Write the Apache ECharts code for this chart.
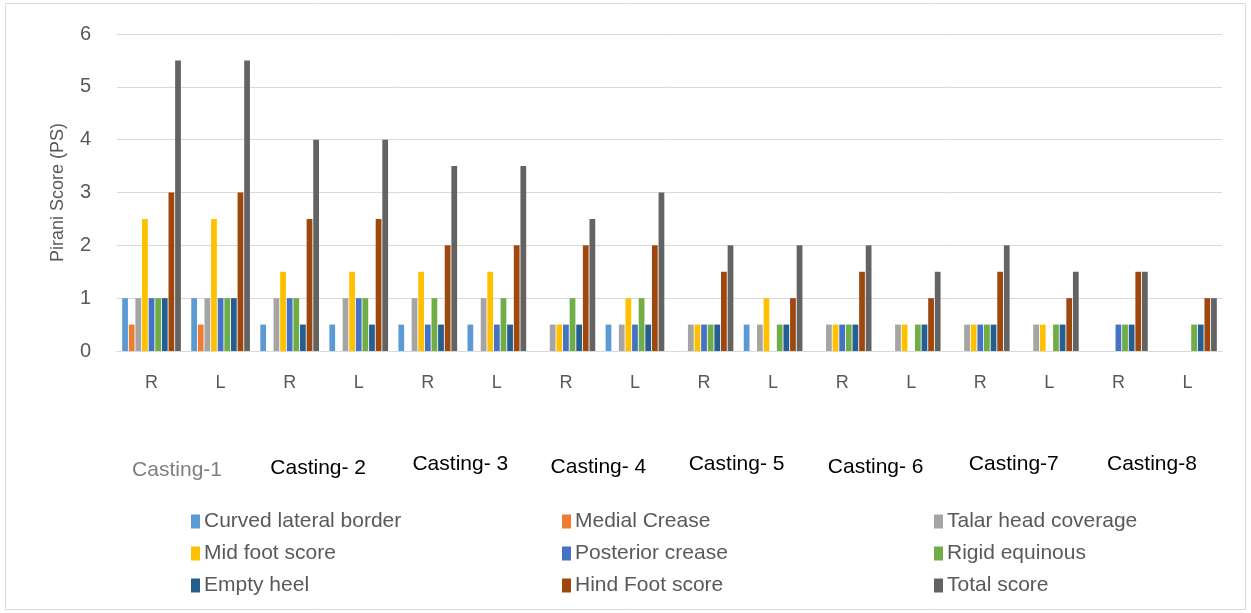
<!DOCTYPE html>
<html>
<head>
<meta charset="utf-8">
<script src="https://cdn.jsdelivr.net/npm/echarts@6/dist/echarts.min.js"></script>
<style>
  html, body { margin: 0; padding: 0; background: #fff; }
  #chart { width: 1251px; height: 613px; }
</style>
</head>
<body>
<div id="chart"></div>
<script>
// Side of each casting (right / left foot)
const sides = ['R','L','R','L','R','L','R','L','R','L','R','L','R','L','R','L'];
const castings = ['Casting-1','Casting- 2','Casting- 3','Casting- 4','Casting- 5','Casting- 6','Casting-7','Casting-8'];
const yTicks = [0, 6, 1];

// Pirani component scores per side
const curvedLateralBorder = [1, 1, 0.5, 0.5, 0.5, 0.5, 0, 0.5, 0, 0.5, 0, 0, 0, 0, 0, 0];
const medialCrease        = [0.5, 0.5, 0, 0, 0, 0, 0, 0, 0, 0, 0, 0, 0, 0, 0, 0];
const talarHeadCoverage   = [1, 1, 1, 1, 1, 1, 0.5, 0.5, 0.5, 0.5, 0.5, 0.5, 0.5, 0.5, 0, 0];
const midFootScore        = [2.5, 2.5, 1.5, 1.5, 1.5, 1.5, 0.5, 1, 0.5, 1, 0.5, 0.5, 0.5, 0.5, 0, 0];
const posteriorCrease     = [1, 1, 1, 1, 0.5, 0.5, 0.5, 0.5, 0.5, 0, 0.5, 0, 0.5, 0, 0.5, 0];
const rigidEquinous       = [1, 1, 1, 1, 1, 1, 1, 1, 0.5, 0.5, 0.5, 0.5, 0.5, 0.5, 0.5, 0.5];
const emptyHeel           = [1, 1, 0.5, 0.5, 0.5, 0.5, 0.5, 0.5, 0.5, 0.5, 0.5, 0.5, 0.5, 0.5, 0.5, 0.5];
const hindFootScore       = [3, 3, 2.5, 2.5, 2, 2, 2, 2, 1.5, 1, 1.5, 1, 1.5, 1, 1.5, 1];
const totalScore          = [5.5, 5.5, 4, 4, 3.5, 3.5, 2.5, 3, 2, 2, 2, 1.5, 2, 1.5, 1.5, 1];

const seriesDefs = [
  ['Curved lateral border', curvedLateralBorder, '#5B9BD5'],
  ['Medial Crease', medialCrease, '#ED7D31'],
  ['Talar head coverage', talarHeadCoverage, '#A5A5A5'],
  ['Mid foot score', midFootScore, '#FFC000'],
  ['Posterior crease', posteriorCrease, '#4472C4'],
  ['Rigid equinous', rigidEquinous, '#70AD47'],
  ['Empty heel', emptyHeel, '#255E91'],
  ['Hind Foot score', hindFootScore, '#9E480E'],
  ['Total score', totalScore, '#636363']
];

const font = '"Liberation Sans", Arial, sans-serif';
const textColor = '#595959';

const legendCommon = {
  orient: 'vertical',
  top: 506,
  itemWidth: 9,
  itemHeight: 14,
  itemGap: 11,
  icon: 'rect',
  textStyle: { fontFamily: font, fontSize: 21, color: textColor, padding: [0, 0, 0, -1] }
};

// per-label nudges for the casting captions [top, right, bottom, left]
const castingPad = [[6, 18, 0, 0], [4, 12, 0, 0], [0, 4, 0, 0], [3, 4, 0, 0], [0, 4, 0, 0], [3, 2, 0, 0], [0, 2, 0, 0], [0, 2, 0, 0]];

const chart = echarts.init(document.getElementById('chart'), null, { renderer: 'canvas' });
chart.setOption({
  animation: false,
  backgroundColor: '#fff',
  color: seriesDefs.map(d => d[2]),
  grid: { left: 117, right: 29, top: 34, bottom: 262 },
  legend: [
    Object.assign({ left: 186, data: [seriesDefs[0][0], seriesDefs[3][0], seriesDefs[6][0]] }, legendCommon),
    Object.assign({ left: 557, data: [seriesDefs[1][0], seriesDefs[4][0], seriesDefs[7][0]] }, legendCommon),
    Object.assign({ left: 929, data: [seriesDefs[2][0], seriesDefs[5][0], seriesDefs[8][0]] }, legendCommon)
  ],
  xAxis: [
    {
      type: 'category',
      data: sides,
      axisLine: { lineStyle: { color: '#d9d9d9', width: 1 } },
      axisTick: { show: false },
      axisLabel: { fontFamily: font, fontSize: 18, color: textColor, margin: 23 }
    },
    {
      type: 'category',
      data: castings,
      position: 'bottom',
      offset: 95,
      axisLine: { show: false },
      axisTick: { show: false },
      axisLabel: {
        interval: 0,
        fontFamily: font,
        fontSize: 21,
        color: '#000',
        formatter: (v, i) => '{c' + i + '|' + v + '}',
        rich: Object.fromEntries(castingPad.map((p, i) => ['c' + i, {
          fontFamily: font, fontSize: 21, color: i === 0 ? '#7f7f7f' : '#000', padding: p
        }]))
      }
    }
  ],
  yAxis: {
    type: 'value',
    min: yTicks[0],
    max: yTicks[1],
    interval: yTicks[2],
    name: 'Pirani Score (PS)',
    nameLocation: 'middle',
    nameGap: 50,
    nameTextStyle: { fontFamily: font, fontSize: 18, color: textColor },
    axisLine: { show: false },
    axisTick: { show: false },
    axisLabel: { fontFamily: font, fontSize: 20, color: textColor, margin: 26 },
    splitLine: { lineStyle: { color: '#d9d9d9', width: 1 } }
  },
  graphic: [{
    type: 'rect',
    shape: { x: 5.5, y: 3.5, width: 1240, height: 606 },
    style: { fill: 'none', stroke: '#d9d9d9', lineWidth: 1 },
    silent: true
  }],
  series: seriesDefs.map(d => ({
    name: d[0],
    type: 'bar',
    xAxisIndex: 0,
    data: d[1],
    barGap: '15%',
    barCategoryGap: '15%',
    itemStyle: { color: d[2] }
  }))
});
</script>
</body>
</html>
